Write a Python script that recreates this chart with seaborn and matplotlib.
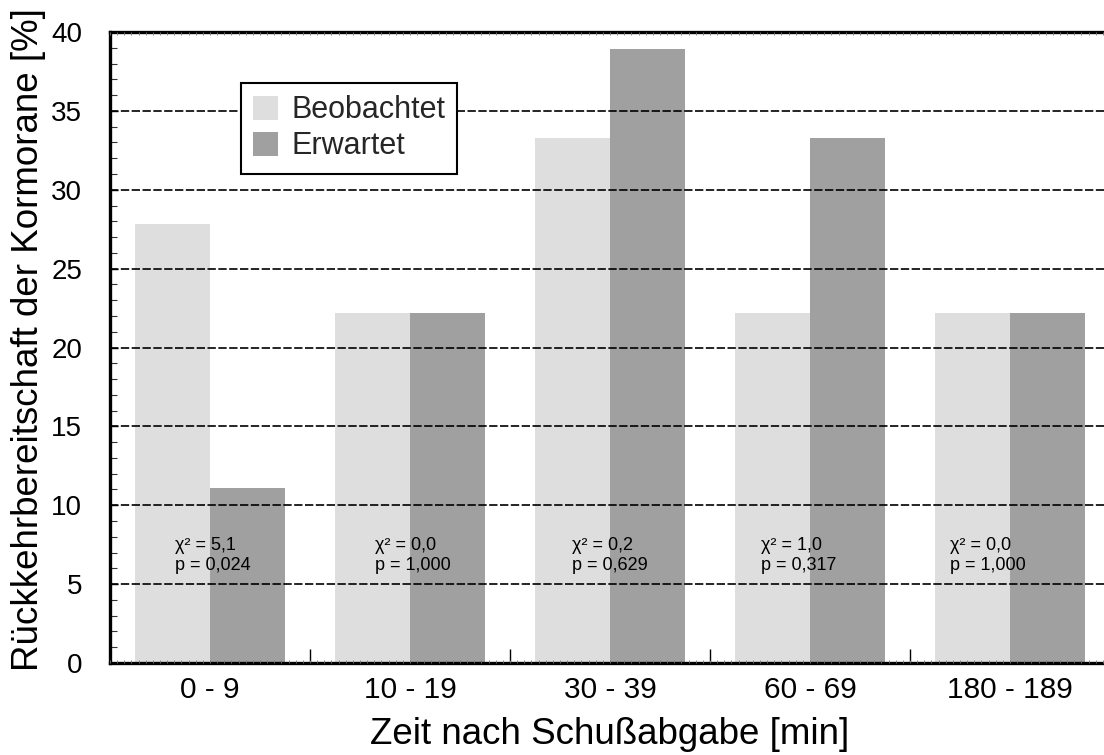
import matplotlib
matplotlib.use("Agg")
import matplotlib.pyplot as plt
from matplotlib.ticker import MultipleLocator, FixedLocator, NullFormatter
import seaborn as sns
import pandas as pd
import numpy as np

# Data
categories = ["0 - 9", "10 - 19", "30 - 39", "60 - 69", "180 - 189"]
beobachtet = [27.8, 22.2, 33.3, 22.2, 22.2]
erwartet = [11.1, 22.2, 38.9, 33.3, 22.2]
chi2_labels = ["5,1", "0,0", "0,2", "1,0", "0,0"]
p_labels = ["0,024", "1,000", "0,629", "0,317", "1,000"]
series_names = ["Beobachtet", "Erwartet"]

df = pd.DataFrame({
    "Zeit": categories * 2,
    "Wert": beobachtet + erwartet,
    "Reihe": [series_names[0]] * len(categories) + [series_names[1]] * len(categories),
})

sns.set_theme(style="white")
plt.rcParams["font.family"] = ["Liberation Sans", "DejaVu Sans"]

fig = plt.figure(figsize=(11.04, 7.55), dpi=100)
ax = fig.add_axes([110 / 1104, 1 - 663 / 755, 1000 / 1104, (663 - 32) / 755])

sns.barplot(data=df, x="Zeit", y="Wert", hue="Reihe", order=categories,
            hue_order=series_names, palette=["#dedede", "#a0a0a0"],
            width=0.75, linewidth=0, saturation=1, ax=ax, zorder=1)

ax.set_xlim(-0.5, 4.5)
ax.set_ylim(0, 40)

# dashed horizontal grid at the major y ticks
for yv in range(5, 40, 5):
    ax.axhline(yv, color="black", lw=1.2, ls=(0, (5, 1.5)), zorder=2)

for s in ["left", "bottom", "top"]:
    ax.spines[s].set_linewidth(2.4)
    ax.spines[s].set_color("black")
ax.spines["right"].set_visible(False)

ax.yaxis.set_major_locator(MultipleLocator(5))
ax.yaxis.set_minor_locator(MultipleLocator(1))
ax.tick_params(axis="y", which="major", direction="in", length=6, width=1,
               labelsize=20, pad=20, colors="black", left=True)
ax.tick_params(axis="y", which="minor", direction="in", length=5, width=0.8,
               color="#333333", left=True)

# category labels at centres, tick marks at group boundaries
ax.xaxis.set_major_locator(FixedLocator(range(len(categories))))
ax.set_xticklabels(categories)
ax.xaxis.set_minor_locator(FixedLocator(np.arange(0.5, len(categories) - 0.5, 1)))
ax.tick_params(axis="x", which="major", length=0, labelsize=21.5, pad=9, colors="black")
ax.tick_params(axis="x", which="minor", direction="in", length=10, width=1,
               color="black", bottom=True)

# fine dotted ticks along bottom and top spines
tw = ax.twiny()
tw.set_position(ax.get_position())
tw.set_xlim(ax.get_xlim())
tw.xaxis.set_major_locator(FixedLocator(np.arange(-0.5, 4.5, 1 / 28)))
tw.xaxis.set_major_formatter(NullFormatter())
tw.tick_params(axis="x", direction="in", length=2, width=0.6, color="#777777",
               top=True, bottom=True)
for s in tw.spines.values():
    s.set_visible(False)

ax.set_xlabel("Zeit nach Schußabgabe [min]", fontsize=26.5, labelpad=10, color="black")
ax.set_ylabel("Rückkehrbereitschaft der Kormorane [%]", fontsize=26.5, color="black")
ax.yaxis.set_label_coords(-0.064, 0.512)

# statistics text per group
text_offsets = [-0.175, -0.175, -0.19, -0.245, -0.3]
for i, (c, p) in enumerate(zip(chi2_labels, p_labels)):
    ax.text(i + text_offsets[i], 6.8, f"χ² = {c}\np = {p}", fontsize=13,
            ha="left", va="center", linespacing=1.2, color="black", zorder=3)

leg = ax.legend(loc="upper left", bbox_to_anchor=(131 / 1000, 1 - 51 / 631),
                fontsize=22, frameon=True, fancybox=False, edgecolor="black",
                framealpha=1, handlelength=0.82, handleheight=0.82,
                handletextpad=0.42, borderpad=0.4, labelspacing=0.2,
                borderaxespad=0)
leg.get_frame().set_linewidth(1.5)
leg.set_title(None)
leg.set_zorder(5)

fig.savefig("out.png", dpi=100)
